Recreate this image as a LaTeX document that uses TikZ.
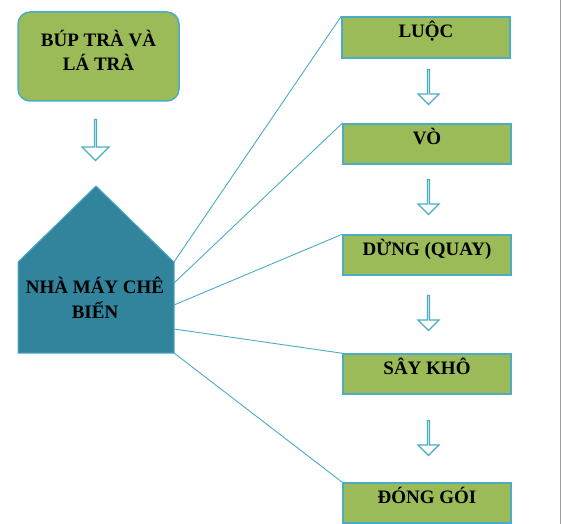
\documentclass[tikz,border=0pt]{standalone}
\usepackage{fontspec}
\setmainfont{Liberation Serif}
\usetikzlibrary{shapes.arrows}
\definecolor{stepgreen}{HTML}{9BBB59}
\definecolor{edgeblue}{HTML}{4BACC6}
\definecolor{housefill}{HTML}{31849B}

\tikzset{
  labelfont/.style={font=\bfseries\fontsize{19}{24.5}\selectfont},
  stepbox/.style={draw=edgeblue, line width=1.5pt, fill=stepgreen, minimum width=168pt, minimum height=40pt, inner sep=0pt, labelfont, text height=10pt, text depth=9pt},
  hollow/.style={single arrow, draw=edgeblue, line width=1.2pt, fill=white, shape border rotate=270, inner sep=0pt},
  link/.style={draw=edgeblue, line width=0.9pt},
}

\begin{document}
\begin{tikzpicture}[x=1pt, y=-1pt]
  \useasboundingbox (0,0) rectangle (562,524);
  \draw[gray!75, line width=1pt] (560.7,0) -- (560.7,524);

  % nguyen lieu
  \node[draw=edgeblue, line width=1.5pt, fill=stepgreen, rounded corners=12pt, minimum width=161pt, minimum height=89pt, inner sep=0pt, labelfont, align=center, text depth=12pt] (tea) at (98.5,56.5) {BÚP TRÀ VÀ\\LÁ TRÀ};
  \node[hollow, minimum height=41pt, minimum width=27pt, single arrow head extend=7pt] (a0) at (95.5,139.5) {};

  % nha may
  \coordinate (h1) at (174,262);
  \coordinate (h2) at (174,283);
  \coordinate (h3) at (174,305);
  \coordinate (h4) at (174,329);
  \coordinate (h5) at (174,353);
  \filldraw[fill=housefill, draw=edgeblue, line width=1pt] (18,262) -- (96,186) -- (h1) -- (h5) -- (18,353) -- cycle;
  \node[labelfont, align=center] (house) at (95,298) {NHÀ MÁY CHÊ\\BIẾN};

  % cac cong doan
  \node[stepbox, minimum height=41pt] (luoc) at (426,37.5) {LUỘC};
  \node[stepbox] (vo) at (427,144) {VÒ};
  \node[stepbox] (dung) at (427,255) {DỪNG (QUAY)};
  \node[stepbox] (say) at (427,374) {SÂY KHÔ};
  \node[stepbox] (dong) at (427,503) {ĐÓNG GÓI};

  \node[hollow, minimum height=35pt, minimum width=21pt, single arrow head extend=5.5pt] (a1) at (428.5,86.5) {};
  \node[hollow, minimum height=35pt, minimum width=21pt, single arrow head extend=5.5pt] (a2) at (428.5,196.5) {};
  \node[hollow, minimum height=35pt, minimum width=21pt, single arrow head extend=5.5pt] (a3) at (428.5,312.5) {};
  \node[hollow, minimum height=35pt, minimum width=21pt, single arrow head extend=5.5pt] (a4) at (428.5,437.5) {};

  \draw[link] (h1) -- (luoc.north west);
  \draw[link] (h2) -- (vo.north west);
  \draw[link] (h3) -- (dung.north west);
  \draw[link] (h4) -- (say.north west);
  \draw[link] (h5) -- (dong.north west);
\end{tikzpicture}
\end{document}
